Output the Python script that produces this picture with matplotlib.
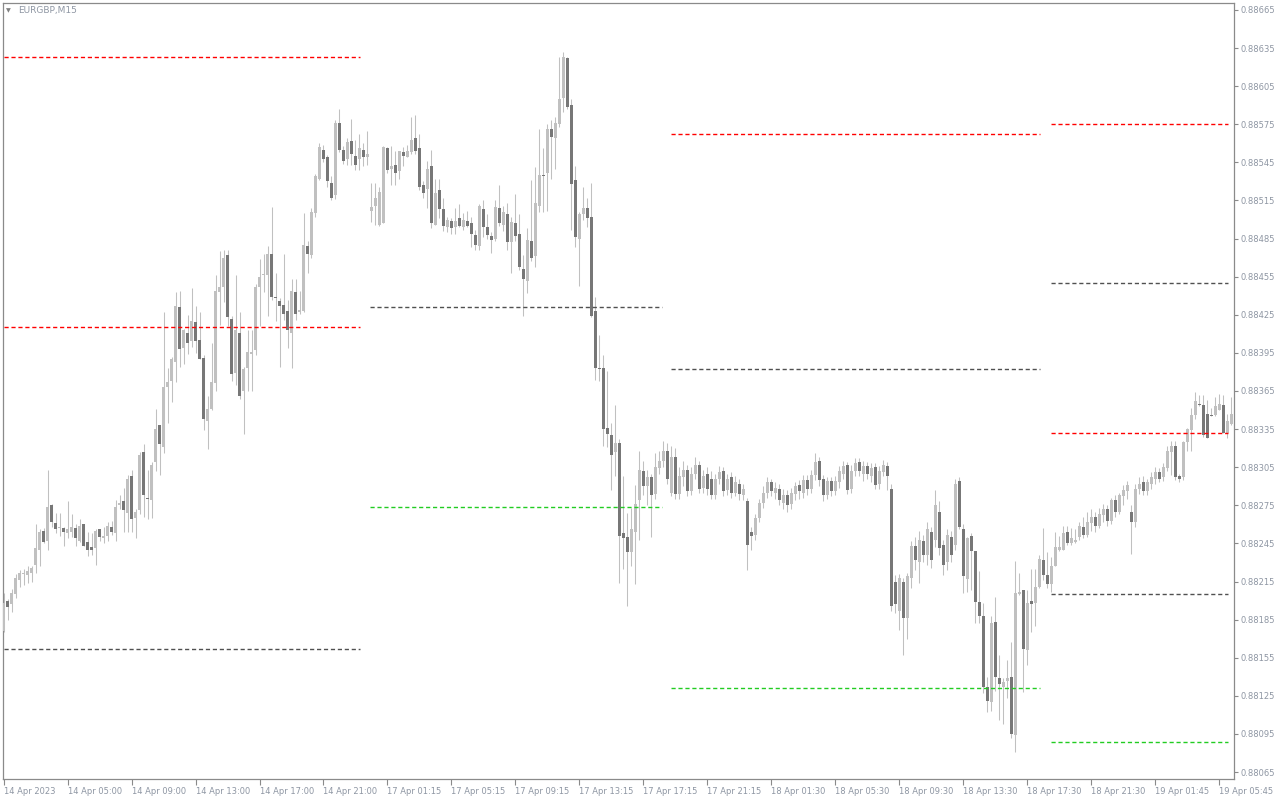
import matplotlib
matplotlib.use("Agg")
import matplotlib.pyplot as plt
from matplotlib.ticker import FixedLocator, FixedFormatter

# ---------------------------------------------------------------
# EURGBP M15 candles, 14 Apr 2023 -> 19 Apr 2023
# ---------------------------------------------------------------
opens = [
    0.88176, 0.88200, 0.88197, 0.88205, 0.88216, 0.88221, 0.88220, 0.88222, 0.88228, 0.88240,
    0.88255, 0.88247, 0.88275, 0.88261, 0.88257, 0.88257, 0.88253, 0.88254, 0.88257, 0.88247,
    0.88260, 0.88246, 0.88242, 0.88241, 0.88256, 0.88249, 0.88251, 0.88258, 0.88253, 0.88275,
    0.88278, 0.88269, 0.88298, 0.88265, 0.88271, 0.88317, 0.88281, 0.88279, 0.88309, 0.88338,
    0.88321, 0.88368, 0.88373, 0.88388, 0.88431, 0.88399, 0.88411, 0.88404, 0.88419, 0.88405,
    0.88391, 0.88341, 0.88351, 0.88371, 0.88443, 0.88447, 0.88472, 0.88422, 0.88379, 0.88411,
    0.88365, 0.88383, 0.88394, 0.88397, 0.88447, 0.88456, 0.88456, 0.88473, 0.88439, 0.88436,
    0.88433, 0.88428, 0.88411, 0.88443, 0.88427, 0.88428, 0.88479, 0.88472, 0.88505, 0.88532,
    0.88555, 0.88549, 0.88529, 0.88519, 0.88576, 0.88555, 0.88548, 0.88562, 0.88550, 0.88548,
    0.88555, 0.88549, 0.88507, 0.88511, 0.88496, 0.88497, 0.88556, 0.88540, 0.88543, 0.88538,
    0.88553, 0.88549, 0.88553, 0.88564, 0.88556, 0.88527, 0.88524, 0.88542, 0.88496, 0.88523,
    0.88508, 0.88494, 0.88499, 0.88494, 0.88501, 0.88494, 0.88499, 0.88497, 0.88488, 0.88479,
    0.88508, 0.88494, 0.88487, 0.88485, 0.88509, 0.88496, 0.88504, 0.88482, 0.88497, 0.88489,
    0.88461, 0.88452, 0.88483, 0.88471, 0.88511, 0.88535, 0.88537, 0.88571, 0.88564, 0.88575,
    0.88596, 0.88627, 0.88590, 0.88531, 0.88485, 0.88504, 0.88509, 0.88502, 0.88428, 0.88383,
    0.88383, 0.88336, 0.88330, 0.88317, 0.88324, 0.88253, 0.88250, 0.88238, 0.88254, 0.88279,
    0.88302, 0.88290, 0.88297, 0.88284, 0.88304, 0.88310, 0.88318, 0.88285, 0.88313, 0.88284,
    0.88297, 0.88303, 0.88286, 0.88300, 0.88307, 0.88289, 0.88300, 0.88296, 0.88283, 0.88296,
    0.88302, 0.88287, 0.88297, 0.88285, 0.88292, 0.88283, 0.88278, 0.88254, 0.88252, 0.88265,
    0.88277, 0.88285, 0.88293, 0.88285, 0.88288, 0.88277, 0.88283, 0.88276, 0.88284, 0.88291,
    0.88285, 0.88295, 0.88288, 0.88299, 0.88310, 0.88296, 0.88283, 0.88294, 0.88286, 0.88293,
    0.88300, 0.88307, 0.88288, 0.88302, 0.88309, 0.88300, 0.88306, 0.88298, 0.88305, 0.88292,
    0.88301, 0.88306, 0.88288, 0.88215, 0.88192, 0.88215, 0.88186, 0.88218, 0.88243, 0.88230,
    0.88247, 0.88236, 0.88254, 0.88248, 0.88270, 0.88244, 0.88230, 0.88250, 0.88244, 0.88294,
    0.88256, 0.88217, 0.88251, 0.88239, 0.88199, 0.88188, 0.88132, 0.88120, 0.88183, 0.88139,
    0.88132, 0.88137, 0.88140, 0.88094, 0.88205, 0.88208, 0.88161, 0.88200, 0.88198, 0.88211,
    0.88232, 0.88220, 0.88213, 0.88227, 0.88240, 0.88240, 0.88254, 0.88245, 0.88246, 0.88250,
    0.88258, 0.88252, 0.88261, 0.88266, 0.88259, 0.88267, 0.88272, 0.88263, 0.88279, 0.88270,
    0.88282, 0.88286, 0.88270, 0.88262, 0.88288, 0.88293, 0.88286, 0.88292, 0.88296, 0.88301,
    0.88297, 0.88304, 0.88317, 0.88322, 0.88298, 0.88297, 0.88325, 0.88334, 0.88346, 0.88355,
    0.88354, 0.88347, 0.88346, 0.88346, 0.88350, 0.88354, 0.88332, 0.88339,
]
highs = [
    0.88206, 0.88201, 0.88209, 0.88221, 0.88224, 0.88225, 0.88227, 0.88227, 0.88260, 0.88256,
    0.88257, 0.88303, 0.88276, 0.88269, 0.88269, 0.88258, 0.88278, 0.88268, 0.88260, 0.88264,
    0.88260, 0.88254, 0.88253, 0.88256, 0.88256, 0.88258, 0.88262, 0.88263, 0.88279, 0.88283,
    0.88289, 0.88299, 0.88303, 0.88272, 0.88317, 0.88323, 0.88303, 0.88309, 0.88351, 0.88338,
    0.88427, 0.88383, 0.88392, 0.88443, 0.88444, 0.88414, 0.88425, 0.88446, 0.88432, 0.88427,
    0.88393, 0.88361, 0.88403, 0.88456, 0.88475, 0.88476, 0.88476, 0.88424, 0.88456, 0.88427,
    0.88384, 0.88413, 0.88413, 0.88449, 0.88469, 0.88473, 0.88479, 0.88510, 0.88458, 0.88438,
    0.88473, 0.88437, 0.88453, 0.88453, 0.88444, 0.88505, 0.88483, 0.88509, 0.88536, 0.88560,
    0.88559, 0.88551, 0.88534, 0.88578, 0.88587, 0.88558, 0.88564, 0.88579, 0.88563, 0.88567,
    0.88560, 0.88570, 0.88529, 0.88529, 0.88526, 0.88558, 0.88557, 0.88558, 0.88554, 0.88554,
    0.88557, 0.88559, 0.88581, 0.88582, 0.88567, 0.88530, 0.88546, 0.88555, 0.88532, 0.88532,
    0.88517, 0.88502, 0.88501, 0.88509, 0.88512, 0.88505, 0.88507, 0.88502, 0.88492, 0.88512,
    0.88515, 0.88504, 0.88490, 0.88515, 0.88527, 0.88511, 0.88513, 0.88502, 0.88520, 0.88504,
    0.88472, 0.88493, 0.88531, 0.88541, 0.88571, 0.88556, 0.88575, 0.88578, 0.88581, 0.88628,
    0.88632, 0.88628, 0.88595, 0.88542, 0.88506, 0.88526, 0.88517, 0.88529, 0.88439, 0.88409,
    0.88393, 0.88381, 0.88340, 0.88354, 0.88327, 0.88298, 0.88269, 0.88273, 0.88291, 0.88318,
    0.88310, 0.88303, 0.88300, 0.88316, 0.88318, 0.88326, 0.88324, 0.88322, 0.88320, 0.88305,
    0.88310, 0.88307, 0.88305, 0.88313, 0.88310, 0.88303, 0.88305, 0.88302, 0.88300, 0.88306,
    0.88305, 0.88300, 0.88301, 0.88298, 0.88296, 0.88292, 0.88281, 0.88258, 0.88268, 0.88280,
    0.88290, 0.88297, 0.88296, 0.88293, 0.88292, 0.88288, 0.88287, 0.88289, 0.88293, 0.88295,
    0.88299, 0.88299, 0.88303, 0.88316, 0.88313, 0.88299, 0.88297, 0.88297, 0.88298, 0.88306,
    0.88310, 0.88309, 0.88307, 0.88312, 0.88312, 0.88310, 0.88309, 0.88308, 0.88308, 0.88306,
    0.88311, 0.88309, 0.88292, 0.88220, 0.88221, 0.88218, 0.88222, 0.88247, 0.88250, 0.88255,
    0.88252, 0.88262, 0.88258, 0.88287, 0.88278, 0.88248, 0.88256, 0.88255, 0.88296, 0.88297,
    0.88260, 0.88250, 0.88253, 0.88239, 0.88223, 0.88198, 0.88140, 0.88188, 0.88203, 0.88157,
    0.88139, 0.88153, 0.88167, 0.88231, 0.88222, 0.88208, 0.88208, 0.88225, 0.88225, 0.88236,
    0.88257, 0.88238, 0.88234, 0.88254, 0.88251, 0.88259, 0.88259, 0.88257, 0.88256, 0.88262,
    0.88266, 0.88270, 0.88272, 0.88270, 0.88273, 0.88276, 0.88275, 0.88281, 0.88283, 0.88285,
    0.88291, 0.88294, 0.88275, 0.88292, 0.88297, 0.88298, 0.88296, 0.88301, 0.88305, 0.88304,
    0.88308, 0.88322, 0.88326, 0.88326, 0.88300, 0.88326, 0.88336, 0.88352, 0.88364, 0.88362,
    0.88362, 0.88358, 0.88352, 0.88360, 0.88363, 0.88362, 0.88347, 0.88360,
]
lows = [
    0.88175, 0.88185, 0.88191, 0.88202, 0.88211, 0.88212, 0.88214, 0.88215, 0.88222, 0.88227,
    0.88245, 0.88240, 0.88258, 0.88253, 0.88251, 0.88243, 0.88249, 0.88250, 0.88243, 0.88246,
    0.88243, 0.88235, 0.88236, 0.88228, 0.88247, 0.88245, 0.88247, 0.88252, 0.88247, 0.88272,
    0.88254, 0.88254, 0.88254, 0.88249, 0.88268, 0.88266, 0.88264, 0.88265, 0.88302, 0.88299,
    0.88316, 0.88340, 0.88356, 0.88372, 0.88384, 0.88386, 0.88394, 0.88400, 0.88395, 0.88390,
    0.88334, 0.88319, 0.88350, 0.88365, 0.88417, 0.88435, 0.88416, 0.88373, 0.88370, 0.88359,
    0.88331, 0.88365, 0.88365, 0.88393, 0.88416, 0.88443, 0.88424, 0.88437, 0.88420, 0.88384,
    0.88421, 0.88399, 0.88383, 0.88421, 0.88426, 0.88427, 0.88458, 0.88470, 0.88502, 0.88531,
    0.88545, 0.88526, 0.88515, 0.88516, 0.88553, 0.88544, 0.88543, 0.88543, 0.88539, 0.88539,
    0.88542, 0.88543, 0.88498, 0.88496, 0.88495, 0.88497, 0.88537, 0.88527, 0.88527, 0.88532,
    0.88542, 0.88549, 0.88552, 0.88552, 0.88523, 0.88517, 0.88509, 0.88493, 0.88496, 0.88501,
    0.88491, 0.88490, 0.88489, 0.88489, 0.88494, 0.88492, 0.88494, 0.88478, 0.88476, 0.88476,
    0.88486, 0.88485, 0.88474, 0.88483, 0.88495, 0.88491, 0.88476, 0.88458, 0.88483, 0.88460,
    0.88424, 0.88442, 0.88467, 0.88463, 0.88506, 0.88506, 0.88507, 0.88532, 0.88540, 0.88573,
    0.88585, 0.88587, 0.88492, 0.88478, 0.88448, 0.88500, 0.88494, 0.88423, 0.88374, 0.88373,
    0.88322, 0.88321, 0.88287, 0.88298, 0.88214, 0.88225, 0.88196, 0.88227, 0.88213, 0.88248,
    0.88283, 0.88275, 0.88250, 0.88280, 0.88300, 0.88305, 0.88292, 0.88282, 0.88280, 0.88280,
    0.88290, 0.88282, 0.88283, 0.88296, 0.88285, 0.88285, 0.88283, 0.88280, 0.88280, 0.88292,
    0.88282, 0.88283, 0.88281, 0.88282, 0.88279, 0.88279, 0.88224, 0.88240, 0.88248, 0.88262,
    0.88273, 0.88281, 0.88282, 0.88280, 0.88275, 0.88272, 0.88270, 0.88272, 0.88279, 0.88280,
    0.88281, 0.88283, 0.88285, 0.88295, 0.88290, 0.88278, 0.88280, 0.88282, 0.88283, 0.88289,
    0.88296, 0.88284, 0.88285, 0.88298, 0.88298, 0.88294, 0.88296, 0.88293, 0.88288, 0.88288,
    0.88298, 0.88287, 0.88192, 0.88190, 0.88177, 0.88157, 0.88170, 0.88210, 0.88224, 0.88214,
    0.88230, 0.88228, 0.88226, 0.88242, 0.88236, 0.88220, 0.88224, 0.88230, 0.88240, 0.88256,
    0.88206, 0.88207, 0.88208, 0.88182, 0.88182, 0.88127, 0.88112, 0.88113, 0.88129, 0.88106,
    0.88103, 0.88123, 0.88092, 0.88081, 0.88204, 0.88128, 0.88149, 0.88175, 0.88180, 0.88210,
    0.88216, 0.88210, 0.88207, 0.88227, 0.88239, 0.88240, 0.88244, 0.88244, 0.88245, 0.88248,
    0.88249, 0.88250, 0.88255, 0.88254, 0.88257, 0.88262, 0.88259, 0.88260, 0.88266, 0.88268,
    0.88275, 0.88280, 0.88237, 0.88258, 0.88284, 0.88283, 0.88283, 0.88288, 0.88292, 0.88293,
    0.88294, 0.88302, 0.88299, 0.88295, 0.88293, 0.88295, 0.88318, 0.88318, 0.88343, 0.88353,
    0.88329, 0.88328, 0.88345, 0.88345, 0.88350, 0.88332, 0.88328, 0.88338,
]
closes = [
    0.88198, 0.88195, 0.88206, 0.88218, 0.88222, 0.88222, 0.88223, 0.88226, 0.88241, 0.88254,
    0.88246, 0.88274, 0.88262, 0.88256, 0.88258, 0.88254, 0.88256, 0.88258, 0.88249, 0.88259,
    0.88243, 0.88240, 0.88240, 0.88255, 0.88250, 0.88251, 0.88259, 0.88254, 0.88274, 0.88277,
    0.88271, 0.88296, 0.88264, 0.88270, 0.88315, 0.88283, 0.88280, 0.88307, 0.88335, 0.88323,
    0.88368, 0.88372, 0.88390, 0.88432, 0.88398, 0.88413, 0.88403, 0.88420, 0.88404, 0.88390,
    0.88343, 0.88351, 0.88372, 0.88444, 0.88447, 0.88470, 0.88423, 0.88378, 0.88413, 0.88361,
    0.88382, 0.88396, 0.88396, 0.88447, 0.88455, 0.88457, 0.88473, 0.88439, 0.88438, 0.88432,
    0.88426, 0.88413, 0.88444, 0.88426, 0.88429, 0.88480, 0.88473, 0.88506, 0.88534, 0.88557,
    0.88548, 0.88530, 0.88517, 0.88576, 0.88555, 0.88546, 0.88561, 0.88552, 0.88543, 0.88556,
    0.88549, 0.88552, 0.88510, 0.88517, 0.88522, 0.88557, 0.88539, 0.88542, 0.88537, 0.88554,
    0.88550, 0.88554, 0.88563, 0.88554, 0.88526, 0.88521, 0.88540, 0.88497, 0.88521, 0.88508,
    0.88495, 0.88500, 0.88493, 0.88499, 0.88495, 0.88500, 0.88495, 0.88489, 0.88480, 0.88511,
    0.88494, 0.88488, 0.88484, 0.88510, 0.88497, 0.88506, 0.88482, 0.88498, 0.88487, 0.88463,
    0.88453, 0.88484, 0.88470, 0.88513, 0.88535, 0.88534, 0.88571, 0.88565, 0.88576, 0.88595,
    0.88628, 0.88589, 0.88528, 0.88486, 0.88504, 0.88509, 0.88501, 0.88424, 0.88383, 0.88382,
    0.88335, 0.88331, 0.88315, 0.88324, 0.88251, 0.88249, 0.88238, 0.88256, 0.88276, 0.88303,
    0.88290, 0.88297, 0.88283, 0.88305, 0.88310, 0.88318, 0.88296, 0.88313, 0.88284, 0.88298,
    0.88303, 0.88286, 0.88300, 0.88307, 0.88288, 0.88298, 0.88288, 0.88283, 0.88296, 0.88301,
    0.88286, 0.88296, 0.88285, 0.88293, 0.88284, 0.88288, 0.88244, 0.88251, 0.88265, 0.88277,
    0.88285, 0.88293, 0.88286, 0.88289, 0.88279, 0.88283, 0.88275, 0.88285, 0.88290, 0.88286,
    0.88295, 0.88288, 0.88299, 0.88309, 0.88295, 0.88283, 0.88294, 0.88286, 0.88294, 0.88302,
    0.88306, 0.88287, 0.88302, 0.88308, 0.88302, 0.88306, 0.88300, 0.88304, 0.88291, 0.88302,
    0.88307, 0.88298, 0.88196, 0.88197, 0.88218, 0.88186, 0.88219, 0.88243, 0.88232, 0.88248,
    0.88236, 0.88256, 0.88232, 0.88275, 0.88241, 0.88228, 0.88252, 0.88236, 0.88292, 0.88258,
    0.88219, 0.88249, 0.88239, 0.88199, 0.88188, 0.88132, 0.88121, 0.88182, 0.88140, 0.88134,
    0.88136, 0.88139, 0.88095, 0.88206, 0.88207, 0.88162, 0.88198, 0.88197, 0.88211, 0.88233,
    0.88220, 0.88213, 0.88227, 0.88242, 0.88242, 0.88253, 0.88245, 0.88249, 0.88248, 0.88259,
    0.88252, 0.88262, 0.88266, 0.88259, 0.88268, 0.88272, 0.88263, 0.88279, 0.88270, 0.88283,
    0.88287, 0.88291, 0.88262, 0.88288, 0.88292, 0.88286, 0.88293, 0.88297, 0.88301, 0.88296,
    0.88305, 0.88318, 0.88322, 0.88297, 0.88296, 0.88325, 0.88335, 0.88346, 0.88357, 0.88354,
    0.88330, 0.88328, 0.88345, 0.88353, 0.88355, 0.88332, 0.88341, 0.88347,
]

# daily pivot style levels: start index, end index, price, kind
level_start = [0, 0, 0, 91.7, 91.7, 166.9, 166.9, 166.9, 261.9, 261.9, 261.9, 261.9, 261.9]
level_end = [89.2, 89.2, 89.2, 164.7, 164.7, 259.2, 259.2, 259.2, 306.2, 306.2, 306.2, 306.2, 306.2]
level_price = [0.88628, 0.88415, 0.88162, 0.88431, 0.88274, 0.88567, 0.88382, 0.88131,
               0.88575, 0.88450, 0.88332, 0.88205, 0.88089]
level_kind = ["high", "high", "mid", "mid", "low", "high", "mid", "low",
              "high", "mid", "high", "mid", "low"]

x_tick_labels = [
    "14 Apr 2023", "14 Apr 05:00", "14 Apr 09:00", "14 Apr 13:00", "14 Apr 17:00",
    "14 Apr 21:00", "17 Apr 01:15", "17 Apr 05:15", "17 Apr 09:15", "17 Apr 13:15",
    "17 Apr 17:15", "17 Apr 21:15", "18 Apr 01:30", "18 Apr 05:30", "18 Apr 09:30",
    "18 Apr 13:30", "18 Apr 17:30", "18 Apr 21:30", "19 Apr 01:45", "19 Apr 05:45",
]
y_ticks = [0.88065 + 0.0003 * k for k in range(21)]

# ---------------------------------------------------------------
BULL = "#c0c0c0"
BEAR = "#777777"
TEXT = "#8e96a3"
level_colors = {"high": "#ff0000", "mid": "#505050", "low": "#22cc22"}

fig = plt.figure(figsize=(12.8, 8), dpi=100, facecolor="white")
ax = fig.add_axes([3 / 1280, 21 / 800, 1231 / 1280, 776 / 800])
ax.set_facecolor("white")

n = len(opens)
xs = list(range(n))

# wicks
ax.vlines(xs, lows, highs, color=BULL, linewidth=0.75, zorder=2)

# bodies
for i in xs:
    o, c = opens[i], closes[i]
    col = BULL if c >= o else BEAR
    bottom = min(o, c)
    h = max(abs(c - o), 0.000008)
    ax.bar(i, h, bottom=bottom, width=0.75, color=col, linewidth=0, zorder=3)

# levels
for s, e, p, k in zip(level_start, level_end, level_price, level_kind):
    ax.hlines(p, s, e, colors=level_colors[k], linewidth=1.0,
              linestyles=(0, (3, 2)), zorder=4)

ax.set_xlim(-0.15, 307.7)
ax.set_ylim(0.880595, 0.886705)

# axes / ticks
for sp in ax.spines.values():
    sp.set_color("#8a8a8a")
    sp.set_linewidth(0.9)

ax.yaxis.tick_right()
ax.yaxis.set_major_locator(FixedLocator(y_ticks))
ax.yaxis.set_major_formatter(FixedFormatter([f"{v:.5f}" for v in y_ticks]))
ax.tick_params(axis="y", direction="out", length=3, width=0.8, color="#8a8a8a",
               labelsize=6, labelcolor=TEXT, pad=2)

ax.xaxis.set_major_locator(FixedLocator([16 * k for k in range(len(x_tick_labels))]))
ax.xaxis.set_major_formatter(FixedFormatter(x_tick_labels))
ax.tick_params(axis="x", direction="out", length=4, width=0.8, color="#8a8a8a",
               labelsize=6, labelcolor=TEXT, pad=2)
for lbl in ax.get_xticklabels():
    lbl.set_horizontalalignment("left")

# title
fig.text(6 / 1280, 1 - 11 / 800, "\u25bc", fontsize=4.5, color="#808080", va="center")
fig.text(18 / 1280, 1 - 10 / 800, "EURGBP,M15", fontsize=6.5, color=TEXT, va="center")

fig.savefig("out.png", dpi=100, facecolor="white")
